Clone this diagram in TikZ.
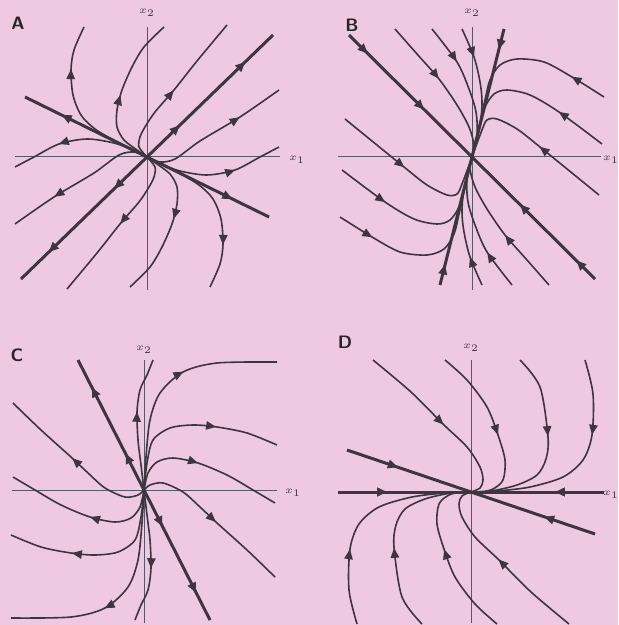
\documentclass[tikz,border=0pt]{standalone}
\usepackage{tikz}
\usetikzlibrary{arrows.meta,decorations.markings}
\definecolor{paper}{RGB}{239,200,226}
\definecolor{ink}{RGB}{60,54,64}
\definecolor{axisgray}{RGB}{88,88,104}
\tikzset{
  axis/.style   = {line width=0.5pt, axisgray},
  traj/.style   = {line width=0.8pt, ink},
  eigen/.style  = {line width=1.5pt, ink},
  flowat/.style = {postaction={decorate, decoration={markings,
                   mark=at position #1 with {\arrow{Triangle[length=5pt,width=4.2pt]}}}}},
  flowin/.style = {postaction={decorate, decoration={markings,
                   mark=at position #1 with {\arrowreversed{Triangle[length=5pt,width=4.2pt]}}}}},
  panel/.style  = {font=\sffamily\bfseries\small, text=black!85},
  axlab/.style  = {font=\tiny, text=ink},
}

\begin{document}
\begin{tikzpicture}[x=0.5pt,y=-0.5pt]
  \useasboundingbox (0,0) rectangle (618,625);
  \fill[paper] (0,0) rectangle (618,625);

  \node[panel] (labA) at (18,23) {A};
  \node[panel] (labB) at (352,25) {B};
  \node[panel] (labC) at (17,355) {C};
  \node[panel] (labD) at (345,342) {D};

  % A: unstable node
  \begin{scope}[shift={(147,157)}]
    \draw[axis] (-132,0) -- (133,0);
    \draw[axis] (0,-130) -- (0,133);
    \node[axlab] (x1A) at (150,3) {$x_1$};
    \node[axlab] (x2A) at (0,-144) {$x_2$};
    \foreach \r in {0,180} {
      \begin{scope}[rotate=\r]
        \draw[eigen, flowat=0.26, flowat=0.78] (0,0) -- (126,-122);
        \draw[eigen, flowat=0.7] (0,0) -- (-122,-60);
        \draw[traj, flowat=0.74] plot[smooth] coordinates {(0,0) (-30,-15) (-52,-28) (-66,-42) (-74,-62) (-76,-87) (-73,-107) (-63,-130)};
        \draw[traj, flowat=0.48] plot[smooth] coordinates {(0,0) (-10,-7) (-23,-17) (-30,-30) (-30,-47) (-25,-67) (-15,-90) (-3,-110) (17,-130)};
        \draw[traj, flowat=0.49] plot[smooth] coordinates {(0,0) (-8,-10) (-7,-20) (-2,-30) (8,-45) (27,-67) (50,-96) (80,-132)};
        \draw[traj, flowat=0.69] plot[smooth] coordinates {(0,0) (12,5) (28,2) (53,-16) (93,-40) (132,-67)};
        \draw[traj, flowat=0.65] plot[smooth] coordinates {(0,0) (14,7) (33,14) (60,18) (88,13) (113,0) (132,-10)};
      \end{scope}
    }
  \end{scope}

  % B: stable node
  \begin{scope}[shift={(472,157)}]
    \draw[axis] (-134,0) -- (129,0);
    \draw[axis] (0,-130) -- (0,133);
    \node[axlab] (x1B) at (139,3) {$x_1$};
    \node[axlab] (x2B) at (0,-144) {$x_2$};
    \foreach \r in {0,180} {
      \begin{scope}[rotate=\r]
        \draw[eigen, flowin=0.85, flowin=0.39] (0,0) -- (-123,-122);
        \draw[eigen, flowin=0.84] (0,0) -- (32,-128);
        \draw[traj, flowin=0.57] plot[smooth] coordinates {(0,0) (2,-12) (-3,-30) (-15,-52) (-33,-78) (-55,-103) (-77,-128)};
        \draw[traj, flowin=0.71] plot[smooth] coordinates {(0,0) (5,-22) (4,-45) (-3,-68) (-15,-95) (-40,-128)};
        \draw[traj, flowin=0.77] plot[smooth] coordinates {(0,0) (8,-32) (10,-55) (8,-75) (2,-100) (-10,-128)};
        \draw[traj, flowin=0.82] plot[smooth] coordinates {(0,0) (8,-35) (13,-57) (18,-77) (28,-92) (45,-98) (72,-95) (100,-80) (132,-60)};
        \draw[traj, flowin=0.72] plot[smooth] coordinates {(0,0) (8,-32) (13,-50) (22,-63) (35,-67) (58,-62) (87,-45) (130,-13)};
        \draw[traj, flowin=0.57] plot[smooth] coordinates {(0,0) (10,-27) (15,-37) (25,-38) (45,-28) (68,-10) (127,38)};
      \end{scope}
    }
  \end{scope}

  % C: degenerate node, unstable
  \begin{scope}[shift={(144,490)}]
    \draw[axis] (-132,0) -- (133,0);
    \draw[axis] (0,-130) -- (0,133);
    \node[axlab] (x1C) at (149,3) {$x_1$};
    \node[axlab] (x2C) at (0,-140) {$x_2$};
    \foreach \r in {0,180} {
      \begin{scope}[rotate=\r]
        \draw[eigen, flowat=0.28, flowat=0.79] (0,0) -- (-66,-130);
        \draw[traj, flowat=0.59] plot[smooth] coordinates {(0,0) (-3,-25) (-6,-50) (-7,-78) (-4,-100) (3,-115) (9,-130)};
        \draw[traj, flowat=0.58] plot[smooth] coordinates {(0,0) (2,-33) (6,-70) (16,-97) (39,-118) (73,-127) (133,-128)};
        \draw[traj, flowat=0.65] plot[smooth] coordinates {(0,0) (3,-27) (9,-50) (26,-62) (49,-65) (73,-63) (103,-57) (133,-45)};
        \draw[traj, flowat=0.46] plot[smooth] coordinates {(0,0) (4,-17) (13,-28) (29,-32) (54,-27) (83,-15) (109,0) (131,13)};
        \draw[traj, flowat=0.52] plot[smooth] coordinates {(0,0) (6,-5) (19,-7) (39,2) (56,17) (73,33) (103,60) (131,87)};
      \end{scope}
    }
  \end{scope}

  % D: stable node
  \begin{scope}[shift={(471,492)}]
    \draw[axis] (-133,0) -- (130,0);
    \draw[axis] (0,-132) -- (0,131);
    \node[axlab] (x1D) at (140,3) {$x_1$};
    \node[axlab] (x2D) at (0,-144) {$x_2$};
    \foreach \r in {0,180} {
      \begin{scope}[rotate=\r]
        \draw[eigen, flowin=0.59] (0,0) -- (-124,-42);
        \draw[eigen, flowin=0.63] (0,0) -- (-133,0);
        \draw[traj, flowin=0.48] plot[smooth] coordinates {(0,0) (9,-4) (12,-12) (9,-25) (-4,-45) (-28,-68) (-60,-100) (-98,-132)};
        \draw[traj, flowin=0.47] plot[smooth] coordinates {(0,0) (10,0) (22,-3) (32,-12) (34,-32) (27,-57) (16,-85) (-4,-112) (-26,-132)};
        \draw[traj, flowin=0.57] plot[smooth] coordinates {(0,0) (20,-1) (46,-7) (66,-17) (75,-33) (77,-55) (69,-105) (49,-132)};
        \draw[traj, flowin=0.66] plot[smooth] coordinates {(0,0) (26,-1) (59,-5) (92,-15) (112,-32) (121,-57) (122,-98) (114,-132)};
      \end{scope}
    }
  \end{scope}
\end{tikzpicture}
\end{document}
